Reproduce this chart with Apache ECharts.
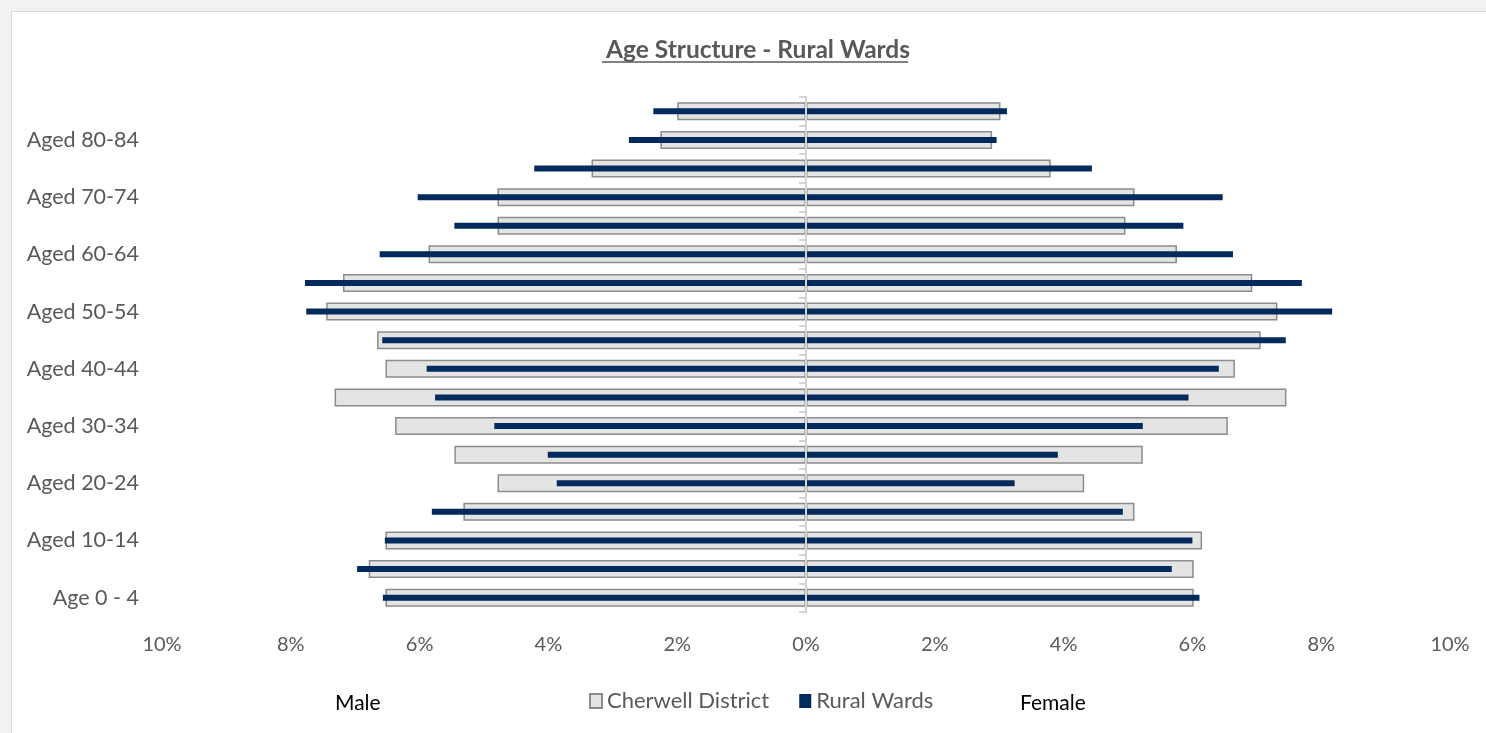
<!DOCTYPE html>
<html>
<head>
<meta charset="utf-8">
<script src="https://cdn.jsdelivr.net/npm/echarts@6/dist/echarts.min.js"></script>
<style>
  html, body { margin: 0; padding: 0; background: #f2f2f2; }
  #frame {
    position: absolute; left: 11px; top: 11px; right: 0; bottom: 0;
    background: #fff; border-left: 1px solid #d9d9d9; border-top: 1px solid #d9d9d9;
  }
  #chart { position: absolute; left: 0; top: 0; width: 1486px; height: 733px; }
</style>
</head>
<body>
<div id="frame"></div>
<div id="chart"></div>
<script>
// age bands, bottom to top
const ageBands = [
  "Age 0 - 4", "Aged 5-9", "Aged 10-14", "Aged 15-19", "Aged 20-24", "Aged 25-29",
  "Aged 30-34", "Aged 35-39", "Aged 40-44", "Aged 45-49", "Aged 50-54", "Aged 55-59",
  "Aged 60-64", "Aged 65-69", "Aged 70-74", "Aged 75-79", "Aged 80-84", "Aged 85+"
];

// % of population (male shown to the left)
const cherwellMale = [6.53, 6.79, 6.53, 5.32, 4.79, 5.46, 6.38, 7.32, 6.53, 6.66, 7.45, 7.19, 5.86, 4.79, 4.79, 3.33, 2.26, 2.00];
const cherwellFemale = [6.02, 6.02, 6.15, 5.10, 4.32, 5.23, 6.55, 7.46, 6.66, 7.06, 7.32, 6.93, 5.76, 4.96, 5.10, 3.80, 2.89, 3.02];
const ruralMale = [6.57, 6.97, 6.54, 5.81, 3.87, 4.01, 4.84, 5.76, 5.89, 6.58, 7.76, 7.78, 6.62, 5.46, 6.03, 4.22, 2.75, 2.37];
const ruralFemale = [6.11, 5.68, 6.00, 4.92, 3.24, 3.91, 5.23, 5.94, 6.41, 7.45, 8.17, 7.70, 6.63, 5.86, 6.47, 4.44, 2.96, 3.12];

const FONT = "Lato, 'Open Sans', sans-serif";
const TEXT = "#595959";
const NAVY = "#022a5c";

const chart = echarts.init(document.getElementById("chart"));

const greyStyle = { color: "#e4e4e4", borderColor: "#8c8c8c", borderWidth: 1.5 };
const navyStyle = { color: NAVY };

const option = {
  animation: false,
  backgroundColor: "transparent",
  title: {
    text: "Age Structure - Rural Wards",
    left: 753,
    top: 33,
    textAlign: "center",
    textStyle: { fontFamily: FONT, fontSize: 24.5, fontWeight: "bold", color: TEXT },
  },
  legend: {
    data: ["Cherwell District", "Rural Wards"],
    left: 584,
    top: 685,
    itemWidth: 12,
    itemHeight: 14,
    itemGap: 30,
    icon: "rect",
    textStyle: { fontFamily: FONT, fontSize: 22, color: TEXT },
  },
  graphic: [
    { type: "line", shape: { x1: 602, y1: 62, x2: 908, y2: 62 }, style: { stroke: TEXT, lineWidth: 1.5 } },
    { type: "text", left: 335, top: 693, style: { text: "Male", fontFamily: FONT, fontSize: 21, fill: "#000" } },
    { type: "text", left: 1020, top: 693, style: { text: "Female", fontFamily: FONT, fontSize: 21, fill: "#000" } },
  ],
  grid: { left: 162, right: 36, top: 97, bottom: 121 },
  xAxis: {
    type: "value",
    min: -10,
    max: 10,
    interval: 2,
    axisLine: { show: false },
    axisTick: { show: false },
    splitLine: { show: false },
    axisLabel: {
      margin: 23,
      fontFamily: FONT,
      fontSize: 20,
      color: TEXT,
      formatter: (v) => Math.abs(v) + "%",
    },
  },
  yAxis: [
    {
      // centre line at 0%
      type: "category",
      data: ageBands,
      z: 10,
      axisLine: { onZero: true, lineStyle: { color: "#d4d4d4", width: 2 } },
      axisTick: { show: true, length: 7, lineStyle: { color: "#c8c8c8", width: 1.5 } },
      axisLabel: { show: false },
    },
    {
      // labels on the far left
      type: "category",
      data: ageBands,
      position: "left",
      axisLine: { show: false, onZero: false },
      axisTick: { show: false },
      axisLabel: { interval: 1, margin: 23, fontFamily: FONT, fontSize: 21.5, color: TEXT },
    },
  ],
  series: [
    {
      name: "Cherwell District",
      type: "bar",
      stack: "cherwell",
      yAxisIndex: 0,
      barWidth: 18,
      itemStyle: greyStyle,
      data: cherwellMale.map((v) => -v),
    },
    {
      name: "Cherwell District",
      type: "bar",
      stack: "cherwell",
      yAxisIndex: 0,
      barWidth: 18,
      itemStyle: greyStyle,
      data: cherwellFemale,
    },
    {
      name: "Rural Wards",
      type: "bar",
      stack: "rural",
      yAxisIndex: 1,
      barWidth: 6,
      itemStyle: navyStyle,
      data: ruralMale.map((v) => -v),
    },
    {
      name: "Rural Wards",
      type: "bar",
      stack: "rural",
      yAxisIndex: 1,
      barWidth: 6,
      itemStyle: navyStyle,
      data: ruralFemale,
    },
  ],
};

chart.setOption(option);
</script>
</body>
</html>
